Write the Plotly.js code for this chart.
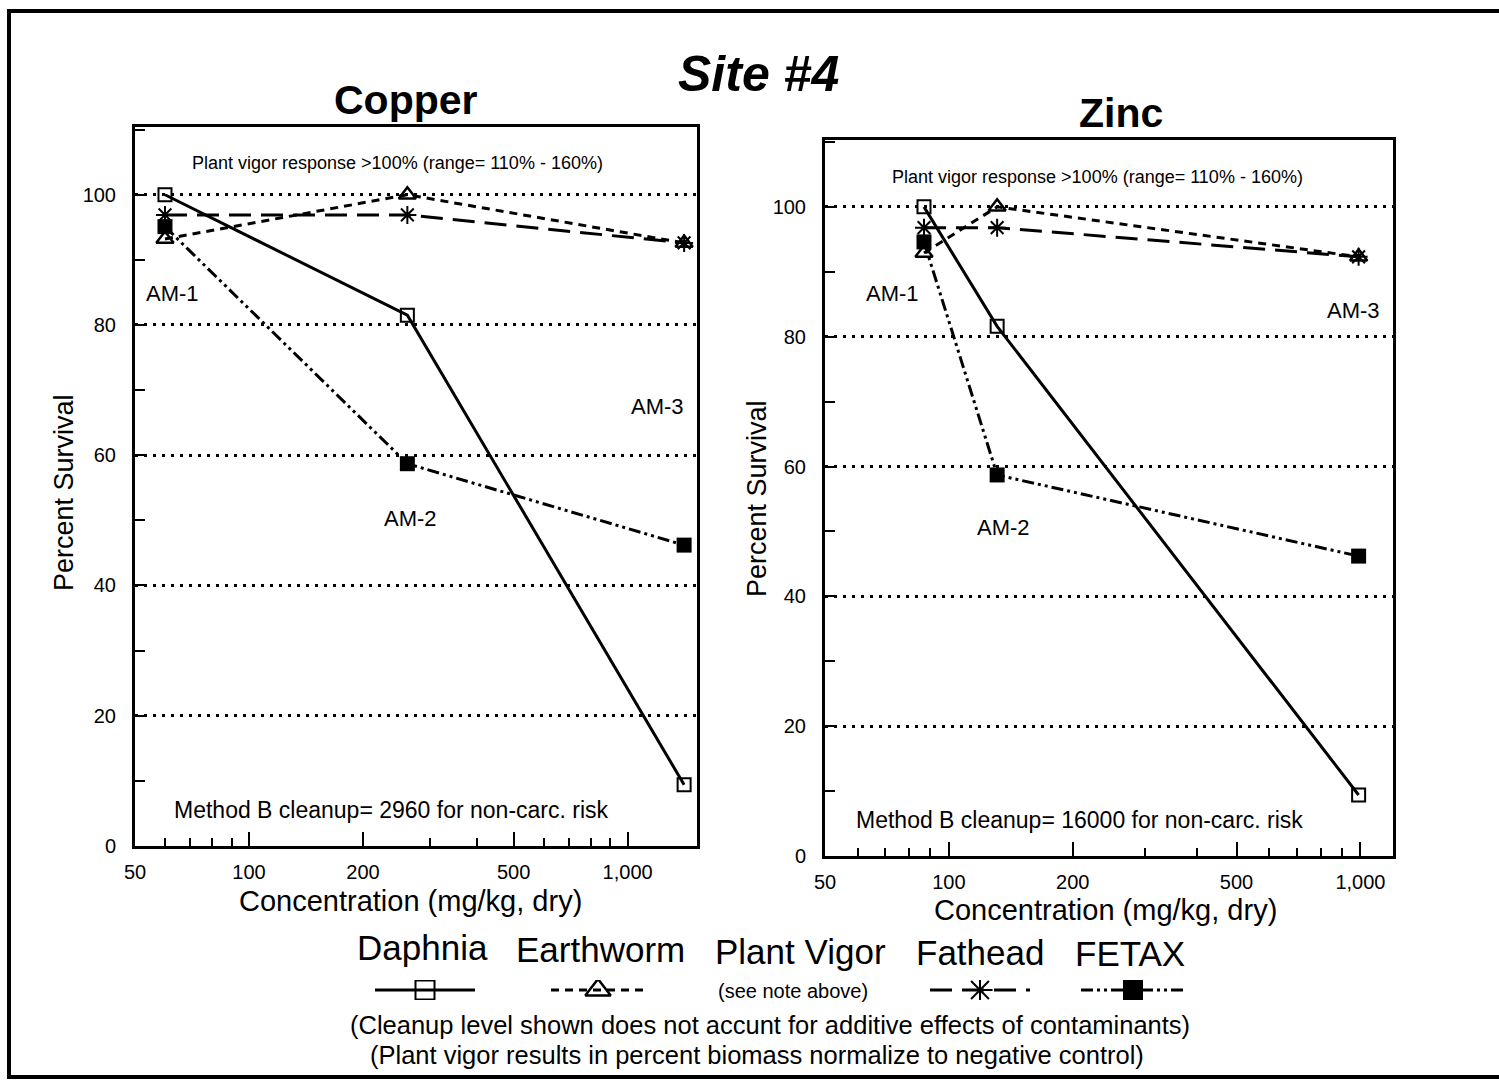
<!DOCTYPE html>
<html>
<head>
<meta charset="utf-8">
<script src="https://cdn.plot.ly/plotly-3.0.1.min.js"></script>
<style>html,body{margin:0;padding:0;background:#fff;}#chart{width:1499px;height:1087px;}</style>
</head>
<body>
<div id="chart"></div>
<script>
// ---- Data ----
const copperConc = [60, 262, 1410];
const zincConc = [87, 131, 990];

const copperDaphnia = [100, 81.5, 9.4];
const copperEarthworm = [93.2, 100, 92.6];
const copperFathead = [96.9, 96.9, 92.6];
const copperFETAX = [95.1, 58.7, 46.2];

const zincDaphnia = [100, 81.6, 9.4];
const zincEarthworm = [92.9, 100, 92.3];
const zincFathead = [96.8, 96.8, 92.3];
const zincFETAX = [94.6, 58.7, 46.2];

const xTickVals = [50, 100, 200, 500, 1000];
const xTickText = ['50', '100', '200', '500', '1,000'];
const xMinorVals = [60, 70, 80, 90, 300, 400, 600, 700, 800, 900];
const yTickVals = [0, 20, 40, 60, 80, 100];

const seriesNames = ['Daphnia', 'Earthworm', 'Fathead', 'FETAX'];

// ---- Styles ----
const FONT = 'Liberation Sans, Arial, Helvetica, sans-serif';
const styles = {
  Daphnia: {line: {color: 'black', width: 3, dash: 'solid'},
            marker: {symbol: 'square-open', size: 13, color: 'black', line: {width: 2, color: 'black'}}},
  Earthworm: {line: {color: 'black', width: 3, dash: '8px,6px'},
            marker: {symbol: 'triangle-up-open', size: 15, color: 'black', line: {width: 2.5, color: 'black'}}},
  Fathead: {line: {color: 'black', width: 3, dash: '22px,10px'},
            marker: {symbol: 'asterisk-open', size: 15, color: 'black', line: {width: 2, color: 'black'}}},
  FETAX: {line: {color: 'black', width: 3, dash: '12px,4px,3px,4px,3px,4px'},
            marker: {symbol: 'square', size: 15, color: 'black', line: {width: 0}}}
};

function mk(name, x, y, xa, ya) {
  return {type: 'scatter', mode: 'lines+markers', name: name, x: x, y: y,
          xaxis: xa, yaxis: ya, showlegend: false,
          line: styles[name].line, marker: styles[name].marker, cliponaxis: false};
}

const traces = [
  mk('Earthworm', copperConc, copperEarthworm, 'x', 'y'),
  mk('Fathead', copperConc, copperFathead, 'x', 'y'),
  mk('FETAX', copperConc, copperFETAX, 'x', 'y'),
  mk('Daphnia', copperConc, copperDaphnia, 'x', 'y'),
  mk('Earthworm', zincConc, zincEarthworm, 'x2', 'y2'),
  mk('Fathead', zincConc, zincFathead, 'x2', 'y2'),
  mk('FETAX', zincConc, zincFETAX, 'x2', 'y2'),
  mk('Daphnia', zincConc, zincDaphnia, 'x2', 'y2')
];

// Legend key samples drawn on a helper axis (x3/y3) spanning the page width in pixels
const keyCenters = {Daphnia: 425, Earthworm: 598, Fathead: 980, FETAX: 1133};
const keyHalf = {Daphnia: 50, Earthworm: 47, Fathead: 50, FETAX: 52};
const keyMarkerSize = {Daphnia: 19, Earthworm: 22, Fathead: 21, FETAX: 20};
seriesNames.forEach(function (n) {
  const c = keyCenters[n], h = keyHalf[n];
  traces.push({type: 'scatter', mode: 'lines', x: [c - h, c + h], y: [0, 0],
    xaxis: 'x3', yaxis: 'y3', showlegend: false, hoverinfo: 'skip',
    line: styles[n].line});
  const m = JSON.parse(JSON.stringify(styles[n].marker));
  m.size = keyMarkerSize[n];
  traces.push({type: 'scatter', mode: 'markers', x: [c], y: [0],
    xaxis: 'x3', yaxis: 'y3', showlegend: false, hoverinfo: 'skip', marker: m});
});

const W = 1499, H = 1087;
function px(x) { return x / W; }
function py(y) { return 1 - y / H; }

function xAxis(domain, maxVal, anchor) {
  return {type: 'log', domain: domain, anchor: anchor,
    range: [Math.log10(50), Math.log10(maxVal)],
    showline: true, linewidth: 3, linecolor: 'black', mirror: true,
    ticks: 'inside', tickvals: xTickVals, ticktext: xTickText,
    ticklen: 14, tickwidth: 2, tickcolor: 'black',
    minor: {tickvals: xMinorVals, ticks: 'inside', ticklen: 8, tickwidth: 2, tickcolor: 'black', showgrid: false},
    showgrid: false, zeroline: false, automargin: false,
    ticklabelstandoff: 6,
    tickfont: {family: FONT, size: 20, color: 'black'}};
}
function yAxis(domain, maxVal, anchor) {
  return {domain: domain, anchor: anchor, range: [0, maxVal],
    showline: true, linewidth: 3, linecolor: 'black', mirror: true,
    ticks: 'inside', tickvals: yTickVals, ticklen: 10, tickwidth: 2, tickcolor: 'black',
    minor: {dtick: 10, ticks: 'inside', ticklen: 10, tickwidth: 2, tickcolor: 'black', showgrid: false},
    showgrid: true, gridcolor: 'black', gridwidth: 3, griddash: '3px,6px',
    zeroline: false, automargin: false, ticklabelstandoff: 12,
    tickfont: {family: FONT, size: 20, color: 'black'}};
}

function ann(text, x, y, size, extra) {
  return Object.assign({text: text, x: px(x), y: py(y), xref: 'paper', yref: 'paper',
    xanchor: 'center', yanchor: 'middle', showarrow: false,
    font: {family: FONT, size: size, color: 'black'}}, extra || {});
}

const annotations = [
  ann('<b><i>Site #4</i></b>', 758, 74, 50),
  ann('<b>Copper</b>', 406, 100, 41),
  ann('<b>Zinc</b>', 1121, 113, 41),
  ann('Plant vigor response >100% (range= 110% - 160%)', 397, 163, 18),
  ann('Plant vigor response >100% (range= 110% - 160%)', 1097, 177, 18),
  ann('AM-1', 172, 294, 22),
  ann('AM-2', 410, 518, 22),
  ann('AM-3', 657, 407, 22),
  ann('AM-1', 892, 294, 22),
  ann('AM-2', 1003, 527, 22),
  ann('AM-3', 1353, 310, 22),
  ann('Method B cleanup= 2960 for non-carc. risk', 391, 810, 23),
  ann('Method B cleanup= 16000 for non-carc. risk', 1079, 820, 23),
  ann('Percent Survival', 64, 492, 27, {textangle: -90}),
  ann('Percent Survival', 757, 499, 27, {textangle: -90}),
  ann('Concentration (mg/kg, dry)', 410, 901, 29),
  ann('Concentration (mg/kg, dry)', 1105, 910, 29),
  ann('Daphnia', 422, 948, 35),
  ann('Earthworm', 600, 949, 35),
  ann('Plant Vigor', 800, 951, 35),
  ann('Fathead', 980, 952, 35),
  ann('FETAX', 1130, 953, 35),
  ann('(see note above)', 793, 991, 20),
  ann('(Cleanup level shown does not accunt for additive effects of contaminants)', 770, 1025, 25.5),
  ann('(Plant vigor results in percent biomass normalize to negative control)', 757, 1055, 25.5)
];

const layout = {
  width: W, height: H,
  margin: {l: 0, r: 0, t: 0, b: 0, pad: 0},
  paper_bgcolor: 'white', plot_bgcolor: 'rgba(0,0,0,0)',
  showlegend: false,
  font: {family: FONT, color: 'black'},
  xaxis: xAxis([px(135), px(697)], 1525, 'y'),
  yaxis: yAxis([py(846), py(127)], 110.4, 'x'),
  xaxis2: xAxis([px(825), px(1393)], 1200, 'y2'),
  yaxis2: yAxis([py(856), py(140)], 110.3, 'x2'),
  xaxis3: {domain: [0, 1], range: [0, W], anchor: 'y3', visible: false, fixedrange: true},
  yaxis3: {domain: [py(1000), py(980)], range: [-1, 1], anchor: 'x3', visible: false, fixedrange: true},
  annotations: annotations,
  shapes: [
    {type: 'rect', xref: 'paper', yref: 'paper', x0: px(9), x1: 1.01, y0: py(1077), y1: py(11),
     line: {color: 'black', width: 4}, fillcolor: 'rgba(0,0,0,0)'}
  ]
};

Plotly.newPlot('chart', traces, layout, {staticPlot: true, displayModeBar: false});
</script>
</body>
</html>
